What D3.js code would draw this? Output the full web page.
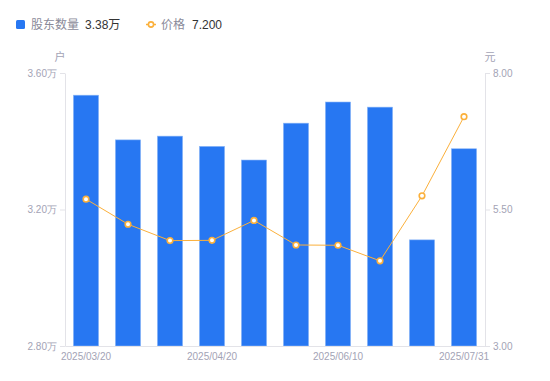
<!DOCTYPE html>
<html lang="zh">
<head>
<meta charset="UTF-8">
<title>股东数量</title>
<style>
  body { margin: 0; background: #fff; }
  svg { font-family: "Liberation Sans", "Noto Sans CJK SC", sans-serif; }
</style>
</head>
<body>
<svg width="550" height="381"></svg>
<script src="https://d3js.org/d3.v7.min.js"></script>
<script>
  // data
  const dates = ['2025/03/20', '2025/03/31', '2025/04/10', '2025/04/20', '2025/04/30',
                 '2025/05/20', '2025/06/10', '2025/06/30', '2025/07/20', '2025/07/31'];
  const holders = [3.535, 3.404, 3.415, 3.385, 3.345, 3.453, 3.515, 3.500, 3.111, 3.378]; // 万户
  const price = [5.69, 5.23, 4.93, 4.935, 5.30, 4.85, 4.845, 4.56, 5.75, 7.20];
  const shownDates = ['2025/03/20', '2025/04/20', '2025/06/10', '2025/07/31'];
  const leftTicks = [2.8, 3.2, 3.6];
  const rightTicks = [3, 5.5, 8];

  const svg = d3.select('svg');
  const margin = {top: 73, right: 65, bottom: 35, left: 65};
  const width = 550 - margin.left - margin.right;
  const height = 381 - margin.top - margin.bottom;
  const g = svg.append('g').attr('transform', `translate(${margin.left},${margin.top})`);

  const blue = '#2777f2', orange = '#fbb03b', axisCol = '#e3e3e8', labelCol = '#a3a3b5';

  const x = d3.scaleBand().domain(dates).range([0, width]).paddingInner(0.4).paddingOuter(0.2);
  const yL = d3.scaleLinear().domain([2.8, 3.6]).range([height, 0]);
  const yR = d3.scaleLinear().domain([3, 8]).range([height, 0]);

  // bars
  g.selectAll('rect.bar').data(holders).enter().append('rect')
    .attr('class', 'bar')
    .attr('x', (d, i) => x(dates[i]))
    .attr('y', d => yL(d))
    .attr('width', x.bandwidth())
    .attr('height', d => height - yL(d))
    .attr('fill', blue)
    .attr('stroke', '#8db8f7')
    .attr('stroke-width', 0.6);

  // axes
  const styleAxis = sel => {
    sel.select('.domain').attr('stroke', axisCol);
    sel.selectAll('.tick line').attr('stroke', axisCol);
    sel.selectAll('.tick text').attr('fill', labelCol).attr('font-size', 10);
  };

  g.append('g')
    .call(d3.axisLeft(yL).tickValues(leftTicks).tickSize(5).tickSizeOuter(0).tickPadding(3)
      .tickFormat(d => d3.format('.2f')(d) + '万'))
    .call(styleAxis);

  g.append('g')
    .attr('transform', `translate(${width},0)`)
    .call(d3.axisRight(yR).tickValues(rightTicks).tickSize(5).tickSizeOuter(0).tickPadding(3)
      .tickFormat(d3.format('.2f')))
    .call(styleAxis);

  g.append('g')
    .attr('transform', `translate(0,${height})`)
    .call(d3.axisBottom(x).tickValues(shownDates).tickSize(0).tickPadding(7))
    .call(styleAxis);

  g.append('text').attr('x', -5).attr('y', -12).attr('text-anchor', 'middle')
    .attr('fill', labelCol).attr('font-size', 11).text('户');
  g.append('text').attr('x', width + 5).attr('y', -12).attr('text-anchor', 'middle')
    .attr('fill', labelCol).attr('font-size', 11).text('元');

  // price line
  const line = d3.line().x((d, i) => x(dates[i]) + x.bandwidth() / 2).y(d => yR(d));
  g.append('path').datum(price)
    .attr('fill', 'none').attr('stroke', orange).attr('stroke-width', 1)
    .attr('d', line);
  g.selectAll('circle.pt').data(price).enter().append('circle')
    .attr('class', 'pt')
    .attr('cx', (d, i) => x(dates[i]) + x.bandwidth() / 2)
    .attr('cy', d => yR(d))
    .attr('r', 2.8)
    .attr('fill', '#fff')
    .attr('stroke', orange)
    .attr('stroke-width', 1.6);

  // legend
  const lg = svg.append('g').attr('font-size', 12);
  lg.append('rect').attr('x', 16).attr('y', 20).attr('width', 9).attr('height', 9)
    .attr('rx', 1.5).attr('fill', blue);
  lg.append('text').attr('x', 31).attr('y', 29).attr('fill', '#8a8a99').text('股东数量');
  lg.append('text').attr('x', 85).attr('y', 29).attr('fill', '#333').text(d3.format('.2f')(holders[9]) + '万');

  lg.append('line').attr('x1', 146).attr('x2', 156).attr('y1', 24.5).attr('y2', 24.5)
    .attr('stroke', orange).attr('stroke-width', 1.5);
  lg.append('circle').attr('cx', 151).attr('cy', 24.5).attr('r', 2.6)
    .attr('fill', '#fff').attr('stroke', orange).attr('stroke-width', 1.6);
  lg.append('text').attr('x', 161).attr('y', 29).attr('fill', '#8a8a99').text('价格');
  lg.append('text').attr('x', 192).attr('y', 29).attr('fill', '#333').text(d3.format('.3f')(price[9]));
</script>
</body>
</html>
